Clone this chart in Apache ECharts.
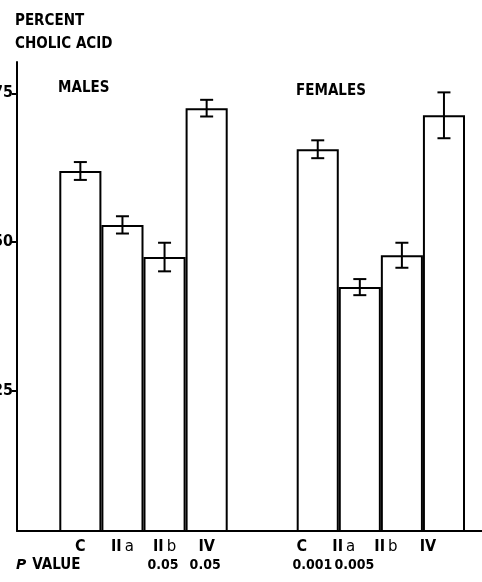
<!DOCTYPE html>
<html>
<head>
<meta charset="utf-8">
<script src="https://cdn.jsdelivr.net/npm/echarts@6/dist/echarts.min.js"></script>
<style>
html,body{margin:0;padding:0;background:#fff;}
#c{width:482px;height:582px;}
</style>
</head>
<body>
<div id="c"></div>
<script>
// ---- data ----
const categories = ['C', 'IIa', 'IIb', 'IV'];
const malesMean = [61.95, 52.9, 47.5, 72.5];
const malesSE = [1.5, 1.45, 2.4, 1.4];
const femalesMean = [65.6, 42.45, 47.8, 71.3];
const femalesSE = [1.5, 1.35, 2.1, 3.85];
const malesP = ['', '', '0.05', '0.05'];
const femalesP = ['', '0.001', '0.005', ''];
const yTicks = [25, 50, 75];
const yMin = 1.5, yMax = 80.25;

const FONT = '"Liberation Sans Narrow","DejaVu Sans Condensed","Arial Narrow","Liberation Sans",sans-serif';
const LIGHT = '"DejaVu Sans","Liberation Sans",sans-serif';

function errData(mean, se) {
  return mean.map((m, i) => [i, m, m + se[i], m - se[i]]);
}
function errRender(params, api) {
  const c = api.coord([api.value(0), api.value(1)]);
  const hi = api.coord([api.value(0), api.value(2)]);
  const lo = api.coord([api.value(0), api.value(3)]);
  const w = 6.5;
  const st = {stroke: '#000', lineWidth: 2};
  return {type: 'group', children: [
    {type: 'line', shape: {x1: c[0], y1: hi[1], x2: c[0], y2: lo[1]}, style: st},
    {type: 'line', shape: {x1: c[0] - w, y1: hi[1], x2: c[0] + w, y2: hi[1]}, style: st},
    {type: 'line', shape: {x1: c[0] - w, y1: lo[1], x2: c[0] + w, y2: lo[1]}, style: st}
  ]};
}
function catLabel(v) {
  if (v.length > 2) return '{b|' + v.slice(0, 2) + '}{n|' + v.slice(2) + '}';
  return '{b|' + v + '}';
}
const FS = 16, TS = 15, PS = 14;
const catRich = {
  b: {fontFamily: FONT, fontWeight: 'bold', fontSize: FS, color: '#000'},
  n: {fontFamily: LIGHT, fontWeight: 'normal', fontSize: 15, color: '#000', padding: [0, 0, 0, 3]}
};
const titleStyle = {fontFamily: FONT, fontWeight: 'bold', fontSize: TS, color: '#000'};

const GT = 62, GB = 51;
const hiddenY = (g) => ({gridIndex: g, type: 'value', min: yMin, max: yMax, show: false});

const chart = echarts.init(document.getElementById('c'), null, {renderer: 'canvas'});
chart.setOption({
  animation: false,
  backgroundColor: '#fff',
  title: [
    {text: 'PERCENT\nCHOLIC ACID', left: 15, top: 10, padding: 0,
     textStyle: Object.assign({}, titleStyle, {lineHeight: 23})},
    {text: 'MALES', left: 58, top: 81, padding: 0, textStyle: titleStyle},
    {text: 'FEMALES', left: 296, top: 84, padding: 0, textStyle: titleStyle},
    {text: '{i|P}VALUE', left: 16, top: 558, padding: 0,
     textStyle: Object.assign({}, titleStyle, {
       rich: {i: {fontFamily: LIGHT, fontStyle: 'italic', fontWeight: 'bold', fontSize: 14, color: '#000', padding: [0, 6, 0, 0]}}})}
  ],
  grid: [
    {left: 17, right: 0, top: GT, bottom: GB, outerBoundsMode: 'none', containLabel: false},
    {left: 59.3, width: 168.4, top: GT, bottom: GB, outerBoundsMode: 'none', containLabel: false},
    {left: 296.7, width: 168.3, top: GT, bottom: GB, outerBoundsMode: 'none', containLabel: false}
  ],
  xAxis: [
    {gridIndex: 0, type: 'category', data: [''], axisLine: {show: true, lineStyle: {color: '#000', width: 2}},
     axisTick: {show: false}, axisLabel: {show: false}, splitLine: {show: false}},
    {gridIndex: 1, type: 'category', data: categories, axisLine: {show: false}, axisTick: {show: false},
     axisLabel: {interval: 0, hideOverlap: false, margin: 8, formatter: catLabel, rich: catRich}},
    {gridIndex: 2, type: 'category', data: categories, axisLine: {show: false}, axisTick: {show: false},
     axisLabel: {interval: 0, hideOverlap: false, margin: 8, formatter: catLabel, rich: catRich, padding: [0, 32, 0, 0]}},
    {gridIndex: 1, type: 'category', data: categories, position: 'bottom', offset: 19,
     axisLine: {show: false}, axisTick: {show: false},
     axisLabel: {interval: 0, hideOverlap: false, margin: 8, formatter: (v, i) => malesP[i], fontFamily: FONT, fontWeight: 'bold', fontSize: PS, color: '#000',
       padding: [0, 3, 0, 0]}},
    {gridIndex: 2, type: 'category', data: categories, position: 'bottom', offset: 19,
     axisLine: {show: false}, axisTick: {show: false},
     axisLabel: {interval: 0, hideOverlap: false, margin: 8, formatter: (v, i) => femalesP[i], fontFamily: FONT, fontWeight: 'bold', fontSize: PS, color: '#000',
       padding: [0, 95, 0, 0]}}
  ],
  yAxis: [
    {gridIndex: 0, type: 'value', min: yMin, max: yMax,
     axisLine: {show: true, lineStyle: {color: '#000', width: 2}},
     axisTick: {show: true, length: 5, customValues: yTicks, lineStyle: {color: '#000', width: 2}},
     axisLabel: {customValues: yTicks, margin: 4, fontFamily: FONT, fontWeight: 'bold', fontSize: FS, color: '#000'},
     splitLine: {show: false}},
    hiddenY(1), hiddenY(2)
  ],
  series: [
    {type: 'bar', xAxisIndex: 1, yAxisIndex: 1, data: malesMean, barWidth: '100%',
     itemStyle: {color: '#fff', borderColor: '#000', borderWidth: 2}},
    {type: 'bar', xAxisIndex: 2, yAxisIndex: 2, data: femalesMean, barWidth: '100%',
     itemStyle: {color: '#fff', borderColor: '#000', borderWidth: 2}},
    {type: 'custom', xAxisIndex: 1, yAxisIndex: 1, data: errData(malesMean, malesSE), renderItem: errRender, z: 5},
    {type: 'custom', xAxisIndex: 2, yAxisIndex: 2, data: errData(femalesMean, femalesSE), renderItem: errRender, z: 5}
  ]
});
</script>
</body>
</html>
